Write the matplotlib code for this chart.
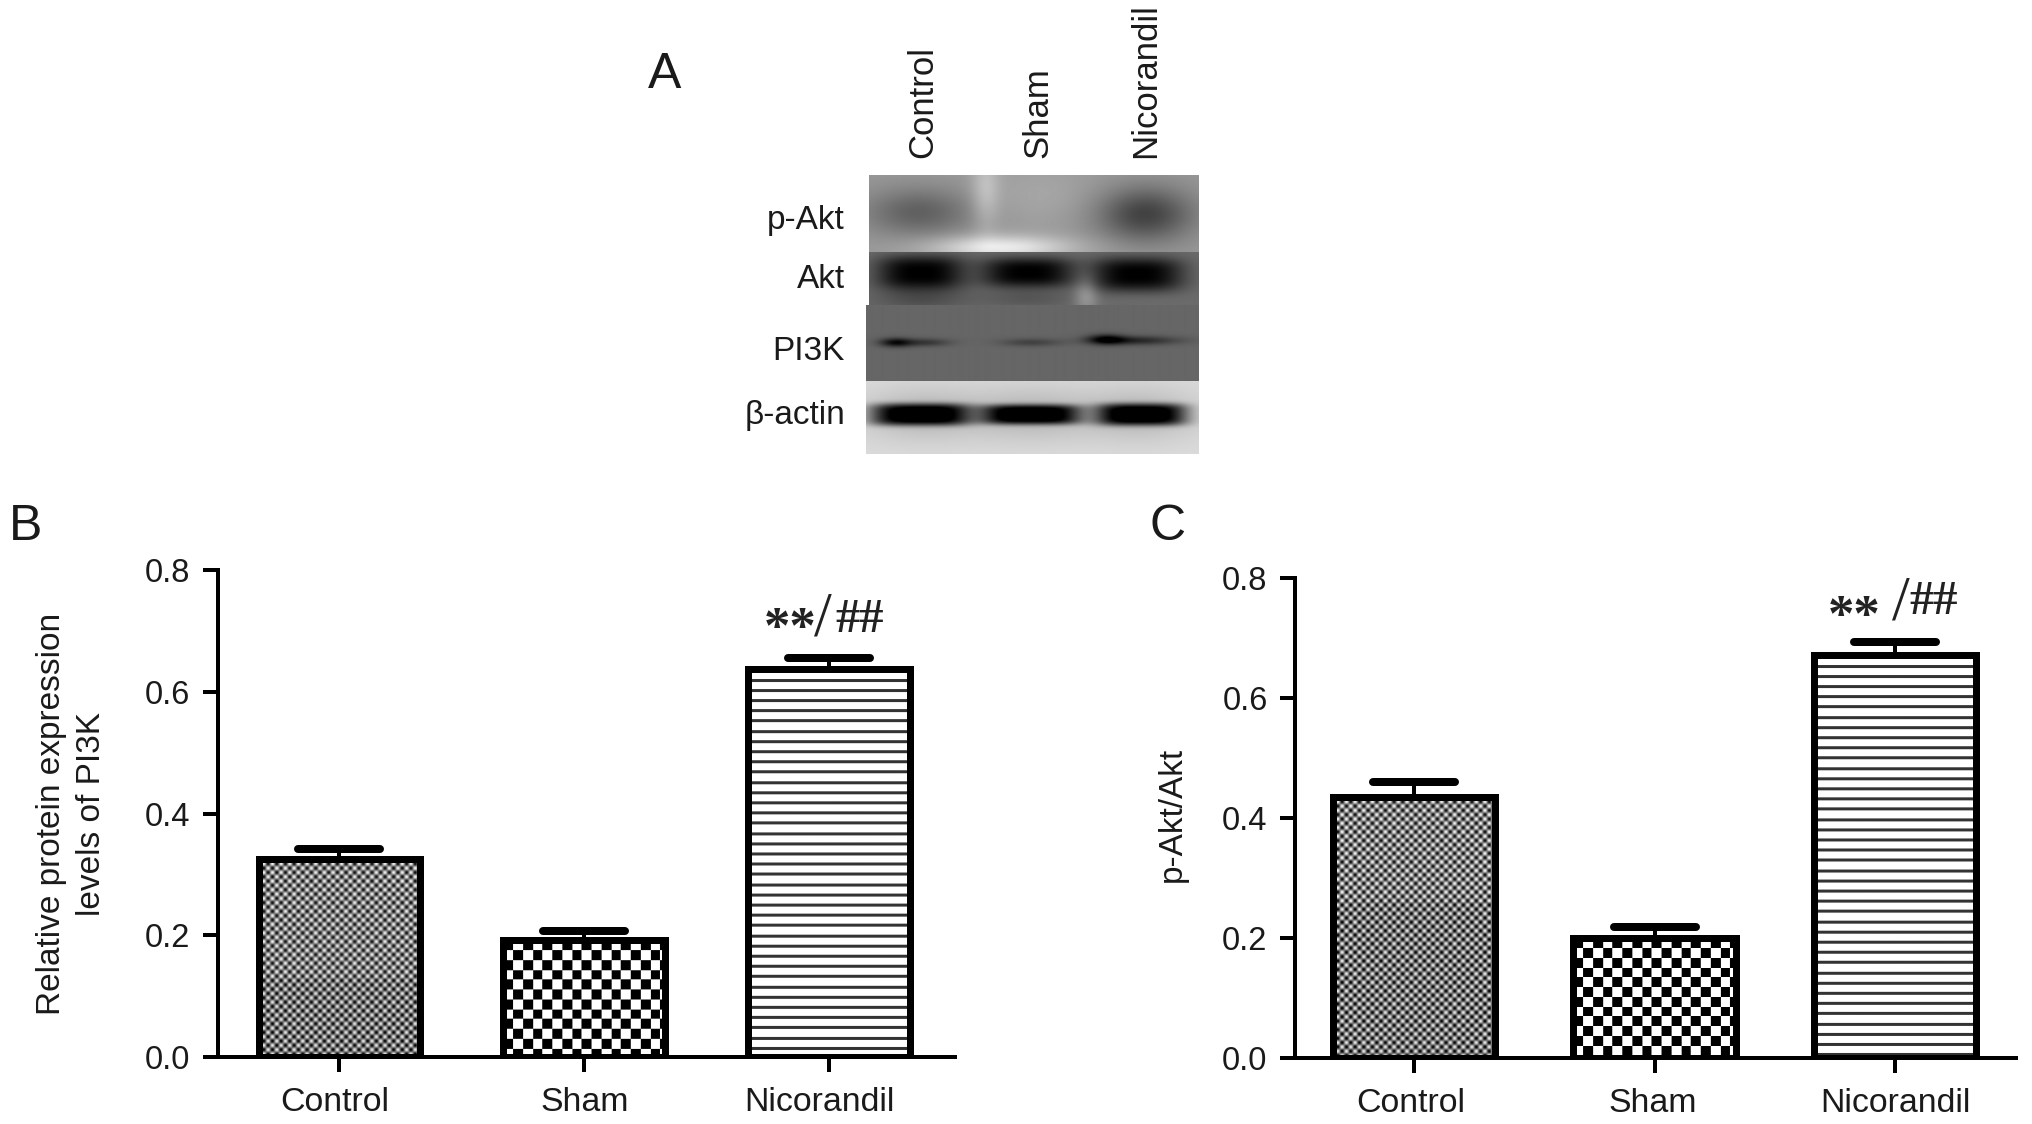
import numpy as np
import matplotlib
matplotlib.use('Agg')
import matplotlib.pyplot as plt
from matplotlib.transforms import ScaledTranslation

plt.rcParams['font.family'] = ['Liberation Sans', 'DejaVu Sans']

groups = ['Control', 'Sham', 'Nicorandil']
yticks = [0.0, 0.2, 0.4, 0.6, 0.8]

pi3k_values = [0.325, 0.192, 0.638]
pi3k_err = [0.017, 0.015, 0.018]
akt_values = [0.435, 0.200, 0.672]
akt_err = [0.025, 0.018, 0.021]

blot_names = ['p-Akt', 'Akt', 'PI3K', '\u03b2-actin']

W, H = 2032, 1124
PX = 72 / 100  # points per pixel at dpi 100


def make_pattern(kind, w, h, shade_from=None):
    yy, xx = np.mgrid[0:h, 0:w]
    if kind == 'dots':
        p = 8.6
        img = 0.50 + 0.46 * np.cos(2 * np.pi * xx / p) * np.cos(2 * np.pi * yy / p)
        if shade_from is not None:
            img[yy > shade_from] -= 0.04
    elif kind == 'check':
        p = 9.75
        img = ((np.floor(xx / p) + np.floor(yy / p)) % 2).astype(float)
    else:
        p = 10.2
        img = np.where((yy % p) < 3, 0.2, 1.0)
    return np.clip(img, 0, 1)


def bar_panel(rect, xlim, width, values, err, ylabel, ylabel_x, shade, label_dx):
    left, right, top, bottom = rect
    ax = fig.add_axes([left / W, 1 - bottom / H, (right - left) / W, (bottom - top) / H])
    x = np.arange(3)
    px_per_y = (bottom - top) / 0.8
    px_per_x = (right - left) / (xlim[1] - xlim[0])
    ax.bar(x, values, width, facecolor='none', edgecolor='black',
           linewidth=7 * PX, zorder=3)
    kinds = ['dots', 'check', 'lines']
    for i in range(3):
        w = max(int(width * px_per_x), 2)
        h = max(int(values[i] * px_per_y), 2)
        img = make_pattern(kinds[i], w, h, h * shade if i == 0 else None)
        ax.imshow(img, cmap='gray', vmin=0, vmax=1, aspect='auto', zorder=2,
                  interpolation='bilinear',
                  extent=[x[i] - width / 2, x[i] + width / 2, 0, values[i]])
    ax.set_xlim(*xlim)
    ax.set_ylim(0, 0.8)
    tops = np.array(values) + np.array(err)
    ax.vlines(x, values, tops, color='black', linewidth=4 * PX, zorder=4)
    ax.hlines(tops, x - 41 / px_per_x, x + 41 / px_per_x, color='black',
              linewidth=8 * PX, capstyle='round', zorder=4)
    for s in ['top', 'right']:
        ax.spines[s].set_visible(False)
    for s in ['left', 'bottom']:
        ax.spines[s].set_linewidth(4 * PX)
    ax.set_xticks(x)
    ax.set_xticklabels(groups, fontsize=24.4, color='#1a1a1a')
    ax.set_yticks(yticks)
    ax.set_yticklabels(['%.1f' % t for t in yticks], fontsize=23.5, color='#1a1a1a')
    ax.tick_params(axis='x', length=15 * PX, width=4 * PX, pad=11)
    ax.tick_params(axis='y', length=15 * PX, width=4 * PX, pad=9)
    for lab, dx in zip(ax.get_xticklabels(), label_dx):
        lab.set_transform(lab.get_transform() + ScaledTranslation(dx / 100, 0, fig.dpi_scale_trans))
    for n, line in enumerate(ylabel):
        fig.text(ylabel_x[n] / W, 1 - 814 / H, line, rotation=90, fontsize=24,
                 ha='center', va='center', color='#1a1a1a')
    return ax


def draw_blot():
    x0, x1, y0, y1 = 866, 1198, 175, 454
    ax = fig.add_axes([x0 / W, 1 - y1 / H, (x1 - x0) / W, (y1 - y0) / H])
    w, h = x1 - x0, y1 - y0
    yy, xx = np.mgrid[0:h, 0:w]
    xx = xx + x0
    yy = yy + y0
    img = np.ones((h, w))

    def blob(cx, cy, sx, sy, amp, power=2):
        return amp * np.exp(-np.abs((xx - cx) / sx) ** power - np.abs((yy - cy) / sy) ** power)

    # strip: top, bottom, base grey
    strips = [(175, 252, 0.60), (252, 305, 0.42), (305, 381, 0.40), (381, 454, 0.86)]
    for top, bottom, grey in strips:
        img[(yy >= top) & (yy < bottom)] = grey

    mask = (yy >= 175) & (yy < 252)
    dark = (blob(918, 212, 55, 24, 0.22) + blob(1144, 214, 48, 27, 0.34)
            - blob(1000, 247, 70, 12, 0.32) - blob(985, 190, 14, 40, 0.15) - blob(1040, 195, 60, 30, 0.05))
    img[mask] = (img - dark)[mask]

    mask = (yy >= 252) & (yy < 305)
    dark = (blob(920, 272, 44, 17, 0.42, 3) + blob(1027, 272, 46, 15, 0.42, 3)
            + blob(1136, 274, 46, 17, 0.42, 3) + blob(920, 298, 45, 12, 0.12)
            + blob(1027, 298, 45, 10, 0.08) - blob(1085, 295, 12, 20, 0.18))
    img[mask] = (img - dark)[mask]

    mask = (yy >= 305) & (yy < 381)
    dark = (blob(895, 342, 16, 4.5, 0.34) + blob(925, 342, 24, 4, 0.18)
            + blob(1030, 342, 30, 4, 0.14) + blob(1105, 339, 18, 5, 0.36)
            + blob(1135, 340, 42, 4.5, 0.24))
    img[mask] = (img - dark)[mask]

    mask = (yy >= 381) & (yy < 454)
    dark = (blob(920, 414, 50, 11, 0.86, 4) + blob(1030, 414, 50, 10, 0.86, 4)
            + blob(1140, 414, 45, 11, 0.86, 4) + blob(920, 414, 62, 26, 0.14)
            + blob(1030, 414, 62, 26, 0.14) + blob(1140, 414, 60, 26, 0.14))
    img[mask] = (img - dark)[mask]
    img[:, :3][yy[:, :3] < 305] = 1.0

    ax.imshow(np.clip(img, 0, 1), cmap='gray', vmin=0, vmax=1, aspect='auto', interpolation='bilinear')
    ax.axis('off')


fig = plt.figure(figsize=(W / 100, H / 100), dpi=100)


def txt(x, y, s, **kw):
    fig.text(x / W, 1 - y / H, s, **kw)


draw_blot()
txt(665, 75, 'A', fontsize=36, ha='center', va='center', color='#1a1a1a')
txt(26, 527, 'B', fontsize=36, ha='center', va='center', color='#1a1a1a')
txt(1168, 527, 'C', fontsize=36, ha='center', va='center', color='#1a1a1a')

for name, y in zip(blot_names, [220, 280, 351, 416]):
    txt(845, y, name, fontsize=24, ha='right', va='center', color='#1a1a1a')
for name, x in zip(groups, [923, 1038, 1146]):
    txt(x, 158, name, fontsize=25, rotation=90, ha='center', va='bottom', color='#1a1a1a')

bar_panel((218, 955, 570, 1057), (-0.496, 2.513), 0.661, pi3k_values, pi3k_err,
          ['Relative protein expression', 'levels of PI3K'], [52, 92], 0.6, [-5, 0, -10])
bar_panel((1295, 2016, 578, 1058), (-0.495, 2.503), 0.675, akt_values, akt_err,
          ['p-Akt/Akt'], [1172], 0.4, [-3, -2, 0])

# significance marks, star / hash parts sit at different heights in the original
serif = dict(family='Liberation Serif', ha='center', va='center', color='#222222')
txt(790, 630, '**', fontsize=38, fontweight='bold', **serif)
txt(823, 620, '/', fontsize=46, **serif)
txt(860, 620, '##', fontsize=35, fontweight='bold', **serif)
txt(1854, 618, '**', fontsize=38, fontweight='bold', **serif)
txt(1901, 605, '/', fontsize=46, **serif)
txt(1934, 602, '##', fontsize=35, fontweight='bold', **serif)

fig.savefig('out.png', dpi=100)
